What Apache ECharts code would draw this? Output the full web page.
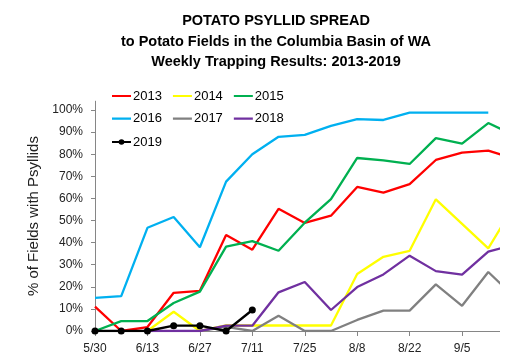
<!DOCTYPE html>
<html>
<head>
<meta charset="utf-8">
<script src="https://cdn.jsdelivr.net/npm/echarts@6/dist/echarts.min.js"></script>
<style>
  html, body { margin: 0; padding: 0; background: #fff; }
  #chart { width: 508px; height: 362px; }
</style>
</head>
<body>
<div id="chart"></div>
<script>
var dates = ['5/30','6/6','6/13','6/20','6/27','7/4','7/11','7/18','7/25','8/1','8/8','8/15','8/22','8/29','9/5','9/12','9/19'];
var y2013 = [11, 0, 1.8, 17.3, 18.2, 43.4, 36.8, 55.3, 48.9, 52.2, 65.2, 62.6, 66.5, 77.4, 80.7, 81.6, 78];
var y2014 = [null, null, 0, 8.7, 0, 2.5, 2.5, 2.5, 2.5, 2.5, 25.8, 33.6, 36.3, 59.6, 48.5, 37.4, 57];
var y2015 = [0, 4.5, 4.5, 12.7, 17.8, 38.2, 40.7, 36.3, 49, 59.7, 78.3, 77.2, 75.6, 87.3, 84.8, 94.1, 88.5];
var y2016 = [15, 15.8, 46.7, 51.6, 37.9, 67.6, 80, 87.9, 88.8, 92.8, 95.9, 95.5, 98.8, 98.8, 98.8, 98.8, null];
var y2017 = [null, null, null, null, 0, 1.9, 0, 6.9, 0, 0, 5, 9.2, 9.2, 21.1, 11.4, 26.7, 15.3];
var y2018 = [null, null, 0, 0, 0, 2.4, 2.4, 17.5, 22.2, 9.5, 19.9, 25.6, 34.1, 27.1, 25.5, 35.9, 39.1];
var y2019 = [0, 0, 0, 2.4, 2.4, 0, 9.5, null, null, null, null, null, null, null, null, null, null];
var yTicks = [0, 10, 20, 30, 40, 50, 60, 70, 80, 90, 100];

var seriesNames = ['2013', '2014', '2015', '2016', '2017', '2018', '2019'];
var seriesData = [y2013, y2014, y2015, y2016, y2017, y2018, y2019];
var colors = ['#FF0000', '#FFFF00', '#00B050', '#00B0F0', '#808080', '#7030A0', '#000000'];

var FONT = 'Liberation Sans';
var LINE_ICON = 'path://M0,4.8 L20,4.8 L20,7.2 L0,7.2 Z M0,0 L0,0.01 M0,12 L0,12.01';
var DOT_ICON = 'path://M0,4.8 L7.2,4.8 L7.2,7.2 L0,7.2 Z M12.8,4.8 L20,4.8 L20,7.2 L12.8,7.2 Z M7,6 A3,3 0 1,1 13,6 A3,3 0 1,1 7,6 Z M0,0 L0,0.01 M0,12 L0,12.01';

var series = seriesNames.map(function (name, i) {
  var isDot = name === '2019';
  return {
    name: name,
    type: 'line',
    data: seriesData[i],
    symbol: isDot ? 'circle' : 'none',
    symbolSize: 7,
    showSymbol: isDot,
    connectNulls: false,
    lineStyle: { color: colors[i], width: 2.3 },
    itemStyle: { color: colors[i] },
    emphasis: { disabled: true },
    animation: false
  };
});

function legendAt(names, top) {
  return {
    data: names.map(function (n) {
      return { name: n, icon: n === '2019' ? DOT_ICON : LINE_ICON };
    }),
    left: 112,
    top: top,
    orient: 'horizontal',
    itemWidth: 19,
    itemHeight: 11,
    itemGap: 11,
    padding: 0,
    symbolKeepAspect: false,
    textStyle: { fontFamily: FONT, fontSize: 13, color: '#000', padding: [0, 0, 0, -3] }
  };
}

var chart = echarts.init(document.getElementById('chart'), null, { renderer: 'canvas' });
chart.setOption({
  backgroundColor: '#fff',
  animation: false,
  title: {
    text: 'POTATO PSYLLID SPREAD\nto Potato Fields in the Columbia Basin of WA\nWeekly Trapping Results: 2013-2019',
    left: 276,
    top: 11,
    textAlign: 'center',
    padding: 0,
    textStyle: { fontFamily: FONT, fontSize: 14.5, fontWeight: 'bold', color: '#000', lineHeight: 20.5 }
  },
  legend: [
    legendAt(['2013', '2014', '2015'], 89.5),
    legendAt(['2016', '2017', '2018'], 112.2),
    legendAt(['2019'], 135.5)
  ],
  grid: { left: 95, right: -6.5, top: 101.2, bottom: 31, containLabel: false, outerBoundsMode: 'none' },
  xAxis: {
    type: 'category',
    data: dates,
    boundaryGap: false,
    axisLine: { lineStyle: { color: '#868686', width: 1 } },
    axisTick: { show: true, interval: 1, length: 5, lineStyle: { color: '#868686' } },
    axisLabel: {
      interval: function (idx) { return idx % 2 === 0 && idx < dates.length - 1; },
      margin: 12, fontFamily: FONT, fontSize: 12, color: '#222'
    },
    splitLine: { show: false }
  },
  yAxis: {
    type: 'value',
    min: 0,
    max: 104,
    interval: 10,
    name: '% of Fields with Psyllids',
    nameLocation: 'middle',
    nameRotate: 90,
    nameGap: 48,
    nameTextStyle: { fontFamily: FONT, fontSize: 15, color: '#222' },
    axisLine: { show: true, lineStyle: { color: '#868686', width: 1 } },
    axisTick: { show: true, length: 4, customValues: yTicks, lineStyle: { color: '#868686' } },
    axisLabel: { customValues: yTicks, margin: 12, fontFamily: FONT, fontSize: 12, color: '#222',
      formatter: function (v) { return v + '%'; } },
    splitLine: { show: false }
  },
  graphic: [{
    type: 'rect',
    left: 500, top: 0,
    shape: { width: 8, height: 362 },
    style: { fill: '#fff' },
    z: 100, silent: true
  }],
  series: series
});
</script>
</body>
</html>
